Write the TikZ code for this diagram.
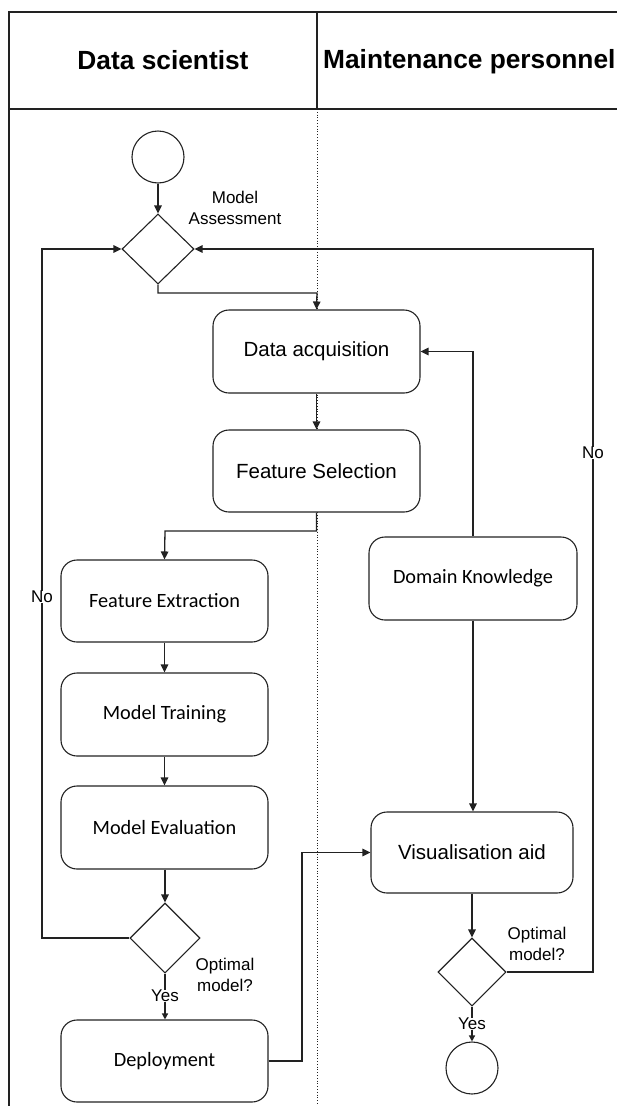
\documentclass[tikz,border=0pt]{standalone}
\usepackage{fontspec}
\setmainfont{Liberation Sans}
\newfontfamily\calfont{Carlito}
\usetikzlibrary{shapes.geometric,arrows.meta}
\definecolor{ln}{HTML}{222222}
\tikzset{
  box/.style={draw=ln, fill=white, line width=1.1pt, rounded corners=16pt, minimum width=207pt, minimum height=83pt, inner sep=0pt},
  arialtxt/.style={font=\fontsize{20.5}{24}\selectfont},
  caltxt/.style={font=\calfont\fontsize{20.3}{24}\selectfont},
  dec/.style={draw=ln, fill=white, line width=1.1pt, diamond, minimum width=71pt, minimum height=70pt, inner sep=0pt},
  term/.style={draw=ln, fill=white, line width=1.1pt, circle, minimum size=52pt, inner sep=0pt},
  conn/.style={draw=ln, line width=1.3pt},
  arr/.style={conn, -{Triangle[length=8pt,width=7.5pt]}},
  smallarr/.style={conn, -{Triangle[length=6pt,width=6pt]}},
  lbl/.style={font=\fontsize{17}{21}\selectfont, align=center, inner sep=1pt},
  title/.style={font=\bfseries\fontsize{26.3}{30}\selectfont},
}
\begin{document}
\begin{tikzpicture}[x=1pt,y=-1pt]
\useasboundingbox (0,0) rectangle (617,1106);
% frame
\coordinate (tl) at (9,12);
\coordinate (tr) at (617,12);
\coordinate (bl) at (9,1106);
\coordinate (hl) at (9,109);
\coordinate (hr) at (617,109);
\coordinate (dtop) at (317,12);
\coordinate (dmid) at (317,109);
\coordinate (dbot) at (317,1106);
\draw[ln, line width=1.1pt] (tr) -- (tl) -- (bl);
\draw[ln, line width=1.1pt] (hl) -- (hr);
\draw[ln, line width=1.1pt] (dtop) -- (dmid);
\draw[ln, line width=0.8pt, dotted] (dmid) -- (dbot);
\node[title] (t1) at (163,60) {Data scientist};
\node[title, anchor=west, inner sep=0pt] (t2) at (323,62) {Maintenance personnel};

% nodes
\node[term] (start) at (158,157) {};
\node[dec, minimum width=72pt] (assess) at (158,249) {};
\node[lbl] (assesslbl) at (235,208) {Model\\Assessment};
\node[box, arialtxt] (da) at (316.5,351.5) {Data acquisition};
\node[box, arialtxt, minimum height=82pt] (fs) at (316.5,471) {Feature Selection};
\node[box, caltxt, minimum height=82pt] (fe) at (164.5,601) {Feature Extraction};
\node[box, caltxt] (mt) at (164.5,714.5) {Model Training};
\node[box, caltxt] (me) at (164.5,827.5) {Model Evaluation};
\node[dec, minimum width=70pt] (opt1) at (165,938) {};
\node[lbl] (opt1lbl) at (225,975) {Optimal\\model?};
\node[box, caltxt, minimum height=82pt] (dep) at (164.5,1061) {Deployment};
\node[box, caltxt, minimum width=208pt] (dk) at (473,578.5) {Domain Knowledge};
\node[box, arialtxt, minimum width=202pt, minimum height=81pt] (vis) at (472,852.5) {Visualisation aid};
\node[dec, minimum width=68pt, minimum height=68pt] (opt2) at (472,972) {};
\node[lbl] (opt2lbl) at (537,943.5) {Optimal\\model?};
\node[term] (end) at (472,1068) {};

% connectors
\draw[arr] (start) -- (assess);
\draw[arr] (assess.south) |- (317,293) -- (da.north);
\draw[arr] (da) -- (fs);
\draw[arr] (fs.south) |- (165,531) -- (fe.north);
\draw[arr] (fe) -- (mt);
\draw[arr] (mt) -- (me);
\draw[arr] (me.south -| opt1) -- (opt1.north);
\draw[smallarr] (opt1.south) -- (dep.north -| opt1);
\node[lbl, fill=white, inner sep=0.5pt] (yes1) at (165,996) {Yes};
\draw[arr] (opt1.west) -- (42,938) -- (42,249) -- (assess.west);
\node[lbl, fill=white, inner sep=0.5pt] (no1) at (42,597) {No};
\draw[arr] (dep.east) -- (302,1061) |- (vis.west);
\draw[arr] (dk.north) |- (da.east);
\draw[arr] (dk.south) -- (vis.north -| dk.south);
\draw[arr] (vis.south) -- (opt2.north);
\draw[smallarr] (opt2.south) -- (end.north);
\node[lbl, fill=white, inner sep=0.5pt] (yes2) at (472,1024) {Yes};
\draw[arr] (opt2.east) -- (593,972) -- (593,249) -- (assess.east);
\node[lbl, fill=white, inner sep=0.5pt] (no2) at (593,453) {No};
\end{tikzpicture}
\end{document}
